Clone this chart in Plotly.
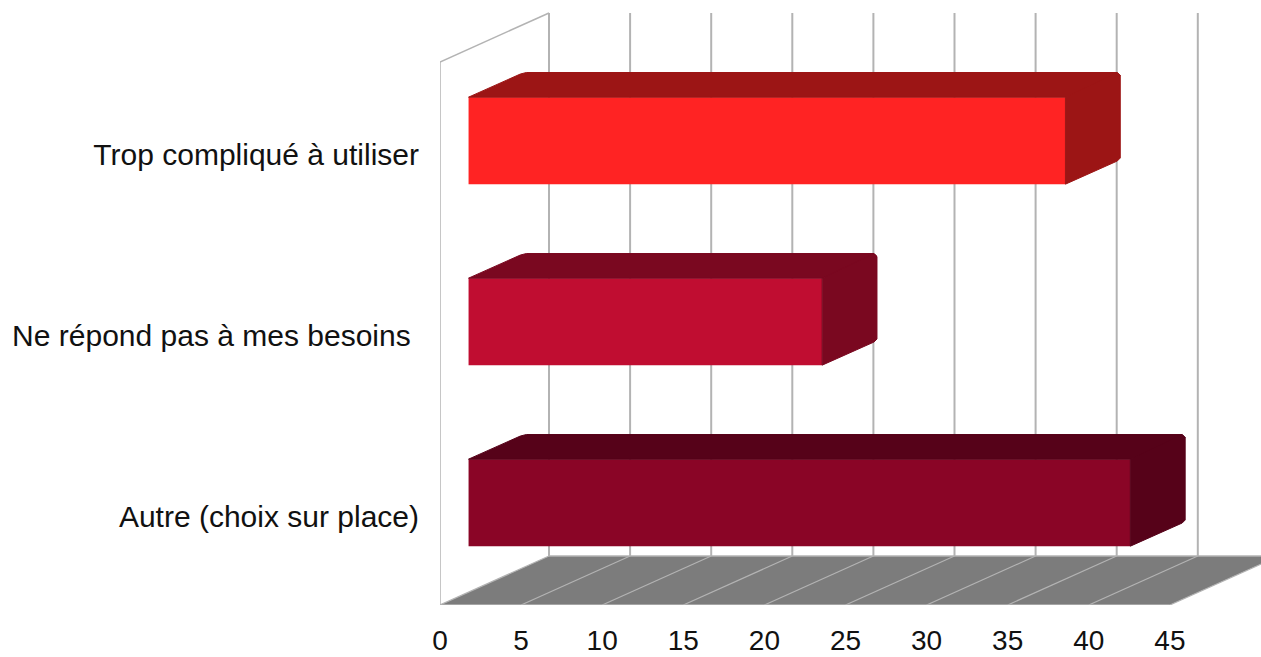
import plotly.graph_objects as go

categories = ["Autre (choix sur place)", "Ne répond pas à mes besoins\u00a0", "Trop compliqué à utiliser"]
values = [40.8, 21.8, 36.8]
front_colors = ["#8A0526", "#C00D31", "#FF2323"]
top_colors = ["#560219", "#7A0820", "#9C1515"]
side_colors = ["#560219", "#7A0820", "#9C1515"]
x_ticks = [0, 5, 10, 15, 20, 25, 30, 35, 40, 45]

W, H = 1261, 657
PX_X = 16.22          # pixels per value unit
PX_Y = 181.0          # pixels per category band
AX_L, AX_B = 440, 605 # pixel position of the origin
DX = 109 / PX_X       # full depth shift in axis units
DY = 49 / PX_Y
D0, D1 = 0.262, 0.765 # bar depth start and end
BAR_W = 87 / PX_Y
GRID = "#B3B3B3"
FLOOR = "#7C7C7C"
WALL_TOP = 3
RX, RY = 3 / PX_X, 3 / PX_Y  # corner bevel of the bars


def proj(x, y, d):
    return x + DX * d, y + DY * d


shapes = []


def seg(p, q, color=GRID, width=2):
    shapes.append(dict(type="line", xref="x", yref="y", layer="below",
                       x0=p[0], y0=p[1], x1=q[0], y1=q[1],
                       line=dict(color=color, width=width)))


xmax = x_ticks[-1]
a, b = proj(0, 0, 1), proj(xmax, 0, 1)
c = proj(xmax, 0, 0)
path = f"M0,0 L{a[0]},{a[1]} L{b[0]},{b[1]} L{c[0]},{c[1]} Z"
shapes.append(dict(type="path", xref="x", yref="y", layer="below", path=path,
                   fillcolor=FLOOR, line=dict(width=0)))
seg((0, 0), c, width=1.5)
seg(a, b, width=1.5)
for t in x_ticks:
    seg(proj(t, 0, 0), proj(t, 0, 1), width=1.2)
    seg(proj(t, 0, 1), proj(t, WALL_TOP, 1))
seg((0, 0), (0, WALL_TOP), width=1.5)
seg((0, WALL_TOP), proj(0, WALL_TOP, 1), width=1.5)

fig = go.Figure()
y_centers = [i + 0.5 for i in range(len(categories))]
label_y = [y - 2 / PX_Y for y in y_centers]

# front faces
for yc, v, col, name in zip(y_centers, values, front_colors, categories):
    x0, y0 = proj(0, yc - 1 / PX_Y, D0)
    fig.add_trace(go.Bar(y=[y0], x=[v], base=[x0], orientation="h", width=BAR_W,
                         marker=dict(color=col, line=dict(width=0)),
                         name=name, showlegend=False, hoverinfo="skip"))

# top and side faces
for yc, v, tc, sc in zip(y_centers, values, top_colors, side_colors):
    x0, y0 = proj(0, yc - 1 / PX_Y, D0)
    x1 = x0 + v
    hi, lo = y0 + BAR_W / 2, y0 - BAR_W / 2
    sx, sy = DX * (D1 - D0), DY * (D1 - D0)
    fig.add_trace(go.Scatter(x=[x0, x0 + sx - RX, x0 + sx + RX, x1 + sx - RX, x1 + sx, x1, x0],
                             y=[hi, hi + sy - RY / 2, hi + sy, hi + sy, hi + sy - RY, hi, hi],
                             mode="lines", fill="toself", fillcolor=tc,
                             line=dict(color=tc, width=1), showlegend=False, hoverinfo="skip"))
    fig.add_trace(go.Scatter(x=[x1, x1 + sx - RX, x1 + sx, x1 + sx, x1 + sx - RX, x1, x1],
                             y=[hi, hi + sy, hi + sy - RY, lo + sy + RY / 2, lo + sy - RY / 2, lo, hi],
                             mode="lines", fill="toself", fillcolor=sc,
                             line=dict(color=sc, width=1), showlegend=False, hoverinfo="skip"))

fig.update_layout(
    width=W, height=H, autosize=False,
    margin=dict(l=AX_L, r=0, t=0, b=H - AX_B, autoexpand=False),
    paper_bgcolor="white", plot_bgcolor="white",
    font=dict(family="Liberation Sans", size=30, color="#111111"),
    shapes=shapes, showlegend=False, barmode="overlay",
    xaxis=dict(range=[0, (W - AX_L) / PX_X], tickmode="array", tickvals=x_ticks,
               ticktext=[str(t) for t in x_ticks], showgrid=False, zeroline=False,
               showline=False, ticks="", ticklabelstandoff=16, tickangle=0, automargin=False,
               tickfont=dict(size=28)),
    yaxis=dict(range=[0, AX_B / PX_Y], tickmode="array", tickvals=label_y,
               ticktext=categories, showgrid=False, zeroline=False,
               showline=False, ticks="", ticklabelstandoff=20, automargin=False),
)
fig.write_html("out.html", post_script="document.body.style.margin='0';",
               config=dict(displayModeBar=False))
